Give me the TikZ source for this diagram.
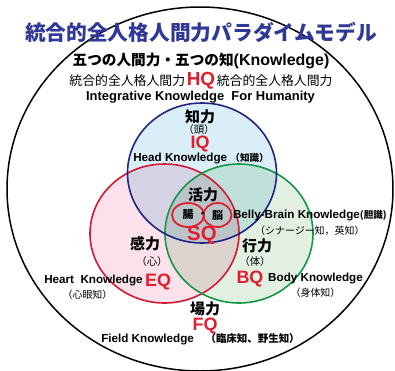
\documentclass[tikz,border=0pt]{standalone}
\usepackage{fontspec}
\setmainfont{Liberation Sans}
\newfontfamily\jp{Noto Sans CJK JP}
\usetikzlibrary{positioning,shapes.geometric}
\usepackage{xcolor}
\definecolor{titleblue}{RGB}{46,56,150}
\definecolor{qred}{RGB}{225,30,45}
\definecolor{headline}{RGB}{35,35,130}
\definecolor{heartline}{RGB}{210,25,50}
\definecolor{bodyline}{RGB}{20,150,70}
\definecolor{headfill}{RGB}{218,238,248}
\definecolor{heartfill}{RGB}{250,225,235}
\definecolor{bodyfill}{RGB}{225,240,225}
\newcommand{\jfs}[2]{{\jp\fontsize{#1}{#1}\selectfont #2}}

\begin{document}
\begin{tikzpicture}
[x=1bp, y=-1bp,
every node/.style={inner sep=0pt, outer sep=0pt},
% The ring style is used to draw the three circles of the model
ring/.style={line width=1.6bp},
% The power style is used to write the name of each human power
power/.style={font=\jp\bfseries\fontsize{15}{15}\selectfont},
organ/.style={font=\jp\fontsize{10.5}{10.5}\selectfont},
% The quotient style is used for the red IQ, EQ, ... labels
quotient/.style={text=qred, font=\bfseries\fontsize{18}{18}\selectfont},
know/.style={font=\bfseries\fontsize{11.7}{12}\selectfont},
note/.style={font=\jp\fontsize{10}{10}\selectfont},
lobe/.style={ellipse, draw=qred, line width=1.8bp, minimum height=24bp, font=\jp\bfseries\fontsize{11}{11}\selectfont}
]
\useasboundingbox (0,0) rectangle (395,371);
% Draw outer frame
\draw[line width=1.5bp] (200,189) ellipse [x radius=193, y radius=182];
% Draw circles
\fill[headfill, blend mode=multiply] (202,173) ellipse [x radius=74.5, y radius=70];
\fill[heartfill, blend mode=multiply] (164.5,233.5) ellipse [x radius=74.5, y radius=69.5];
\fill[bodyfill, blend mode=multiply] (239,233.5) ellipse [x radius=74, y radius=69.5];
\draw[ring, heartline] (164.5,233.5) ellipse [x radius=74.5, y radius=69.5];
\draw[ring, bodyline] (239,233.5) ellipse [x radius=74, y radius=69.5];
\draw[ring, headline] (202,173) ellipse [x radius=74.5, y radius=70];
% Headings
\node[font=\jp\bfseries\fontsize{20.8}{21}\selectfont, text=titleblue] (title) at (201,32) {統合的全人格人間力パラダイムモデル};
\node (five) at (201,61) {\jfs{14.7}{\bfseries 五つの人間力・五つの知}{\bfseries\fontsize{16}{16}\selectfont(Knowledge)}};
\node (hq) at (201,81) {\jfs{12.9}{統合的全人格人間力}\,{\color{qred}\bfseries\fontsize{19}{19}\selectfont HQ}\,\jfs{12.9}{統合的全人格人間力}};
\node[font=\bfseries\fontsize{13}{13}\selectfont] (integ) at (200.5,97) {Integrative Knowledge~~For Humanity};
% Head
\node[power] (chi) at (200,117) {知力};
\node[organ] (atama) at (199,129.5) {（頭）};
\node[quotient] (iq) at (200,144) {IQ};
\node[know] (headk) at (201,158.5) {Head Knowledge \jfs{9.6}{（知識）}};
% Centre
\node[power] (katsu) at (203,195) {活力};
\node[lobe, minimum width=32bp] (gut) at (188,215) {腸};
\node[lobe, minimum width=28bp] (brain) at (217.5,215) {脳};
\node[font=\jp\bfseries\fontsize{10}{10}\selectfont] (dot) at (202.5,215) {・};
\node[quotient, font=\bfseries\fontsize{20.5}{20.5}\selectfont] (sq) at (202,235.5) {SQ};
\node[know, anchor=west] (belly) at (233,216) {Belly-Brain Knowledge\jfs{9.6}{(胆識)}};
\node[note, below=5bp of belly] (synergy) {（シナージー知，英知）};
% Body
\node[power] (kou) at (257,246) {行力};
\node[organ] (karada) at (255,262) {（体）};
\node[quotient] (bq) at (250,279) {BQ};
\node[know] (bodyk) at (315.5,279) {Body Knowledge};
\node[note, below=4bp of bodyk] (shintai) {（身体知）};
% Heart
\node[power] (kan) at (145,244) {感力};
\node[organ] (kokoro) at (152,262) {（心）};
\node[quotient] (eq) at (158,282) {EQ};
\node[know] (heartk) at (93.5,281) {Heart~~Knowledge};
\node[note] (shingan) at (87.5,295) {（心眼知）};
% Field
\node[power] (ba) at (205,309) {場力};
\node[quotient] (fq) at (205,326) {FQ};
\node[know] (fieldk) at (200.5,339.5) {Field Knowledge\quad\jfs{10.5}{（臨床知、野生知）}};
\end{tikzpicture}
\end{document}
